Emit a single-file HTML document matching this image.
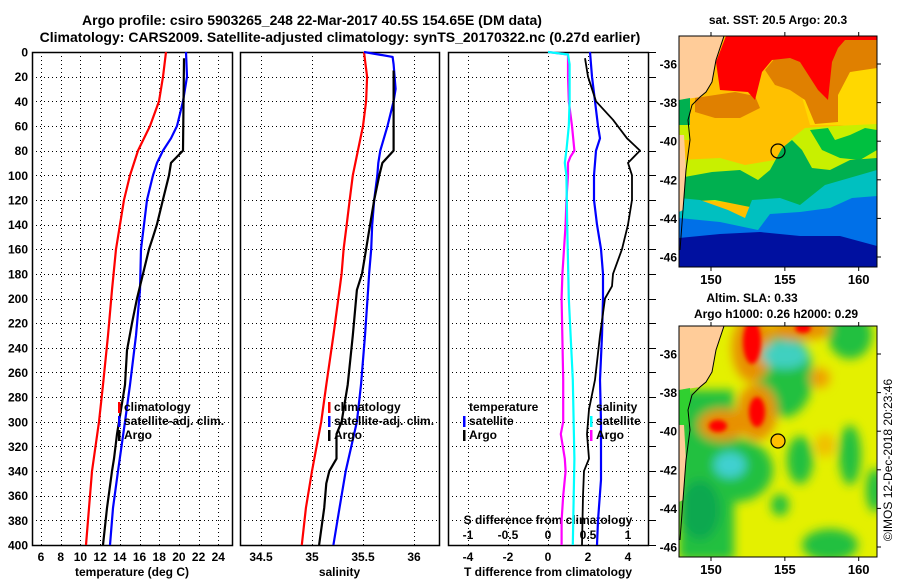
<!DOCTYPE html>
<html><head><meta charset="utf-8"><style>
body{margin:0;background:#fff}
svg{display:block;font-family:"Liberation Sans",sans-serif;font-weight:bold}
</style></head><body>
<svg id="c" width="900" height="580" viewBox="0 0 900 580" xmlns="http://www.w3.org/2000/svg">
<defs>
<filter id="blur" x="-20%" y="-20%" width="140%" height="140%"><feGaussianBlur stdDeviation="5"/></filter>
<filter id="blur2"><feGaussianBlur stdDeviation="2"/></filter>
<clipPath id="m1clip"><rect x="679" y="36" width="198" height="231"/></clipPath>
<clipPath id="m2clip"><rect x="679" y="326" width="198" height="231"/></clipPath>
</defs>
<text x="312" y="25" text-anchor="middle" font-size="14">Argo profile: csiro 5903265_248 22-Mar-2017 40.5S 154.65E (DM data)</text>
<text x="340" y="42" text-anchor="middle" font-size="14">Climatology: CARS2009. Satellite-adjusted climatology: synTS_20170322.nc (0.27d earlier)</text>

<!-- SST map -->
<g clip-path="url(#m1clip)">
<rect x="679" y="36" width="198" height="231" fill="#ffc000"/>
<polygon fill="#ffd800" points="800,90 840,75 877,65 877,130 840,125 810,125"/>
<polygon fill="#e08000" points="695,98 735,92 755,96 760,108 740,118 715,118 695,112"/>
<polygon fill="#e08000" points="765,70 775,58 800,52 830,52 840,40 877,36 877,68 850,72 838,95 838,122 815,124 805,100 790,90 775,85"/>
<polygon fill="#ff0000" points="726,36 877,36 877,40 845,40 838,48 832,62 828,100 818,90 800,62 790,58 772,60 762,72 755,100 748,92 720,90 716,62"/>
<polygon fill="#c8f000" points="679,160 720,158 745,165 775,160 790,140 805,128 835,126 877,124 877,165 830,185 800,200 760,205 700,200 679,195"/>
<polygon fill="#00c040" points="810,130 828,128 835,140 850,135 865,128 877,130 877,150 860,160 840,158 822,150"/>
<polygon fill="#00b050" points="679,178 712,172 740,170 758,180 770,170 782,148 792,140 802,150 812,168 830,170 850,160 877,158 877,180 840,182 815,205 775,212 740,205 715,200 679,202"/>
<polygon fill="#00c0c0" points="679,198 700,200 728,210 745,218 752,200 780,198 800,205 825,185 877,170 877,205 820,222 760,232 700,222 679,218"/>
<polygon fill="#0070e8" points="679,218 720,222 758,230 770,214 800,212 830,208 852,198 877,196 877,250 800,240 720,238 679,240"/>
<polygon fill="#0010a0" points="679,238 720,234 760,232 800,236 840,236 877,246 877,267 679,267"/>
<polygon fill="#ffcc99" points="679,36 724,36 716,60 712,82 706,92 700,97 679,100"/>
<polygon fill="#00b050" points="679,100 690,98 690,125 679,125"/>
<polygon fill="#c8f000" points="679,125 690,125 690,140 679,140"/>
<polygon fill="#ffcc99" points="679,135 684,135 686,170 683,210 679,212"/>
<polyline fill="none" stroke="#000" stroke-width="1" points="724,36 716,60 712,82 706,92 700,97 692,105 688,120 690,140 686,170 683,210 680,250"/>
<circle cx="778" cy="151" r="7" fill="none" stroke="#000" stroke-width="1.2"/>
</g>
<rect x="679" y="36" width="198" height="231" fill="none" stroke="#000"/>
<text x="778" y="24" text-anchor="middle" font-size="12">sat. SST: 20.5 Argo: 20.3</text>

<!-- SLA map -->
<g clip-path="url(#m2clip)">
<rect x="679" y="326" width="198" height="231" fill="#e4f000"/>
<g filter="url(#blur)">
<rect x="679" y="390" width="55" height="170" fill="#20c040"/>
<ellipse cx="735" cy="470" rx="38" ry="32" fill="#20c040"/>
<ellipse cx="785" cy="375" rx="28" ry="42" fill="#20c040"/>
<ellipse cx="850" cy="335" rx="22" ry="24" fill="#20c040"/>
<ellipse cx="800" cy="460" rx="13" ry="24" fill="#20c040"/>
<ellipse cx="850" cy="455" rx="11" ry="30" fill="#20c040"/>
<ellipse cx="780" cy="505" rx="9" ry="11" fill="#20c040"/>
<ellipse cx="830" cy="545" rx="28" ry="16" fill="#20c040"/>
<ellipse cx="875" cy="490" rx="9" ry="22" fill="#20c040"/>
<ellipse cx="700" cy="510" rx="20" ry="30" fill="#10a850"/>
<ellipse cx="752" cy="348" rx="20" ry="34" fill="#e89000"/>
<ellipse cx="800" cy="330" rx="32" ry="10" fill="#e89000"/>
<ellipse cx="757" cy="412" rx="20" ry="28" fill="#e89000"/>
<ellipse cx="722" cy="425" rx="24" ry="16" fill="#e89000"/>
<ellipse cx="820" cy="378" rx="10" ry="10" fill="#f0a000"/>
<ellipse cx="825" cy="445" rx="10" ry="12" fill="#f0c000"/>
<ellipse cx="785" cy="355" rx="24" ry="14" fill="#40d0c0"/>
<ellipse cx="730" cy="465" rx="16" ry="13" fill="#40d0d0"/>
</g>
<g filter="url(#blur2)">
<ellipse cx="752" cy="342" rx="9" ry="22" fill="#ff0000"/>
<ellipse cx="803" cy="328" rx="8" ry="5" fill="#ff0000"/>
<ellipse cx="757" cy="412" rx="8" ry="15" fill="#ff0000"/>
<ellipse cx="718" cy="426" rx="9" ry="6" fill="#ff0000"/>
</g>
<polygon fill="#ffcc99" points="679,326 724,326 716,350 712,372 706,382 700,387 679,390"/>
<polygon fill="#30d030" points="679,390 690,388 690,425 679,425"/>
<polygon fill="#ffcc99" points="679,425 684,425 686,460 683,500 679,502"/>
<polyline fill="none" stroke="#000" stroke-width="1" points="724,326 716,350 712,372 706,382 700,387 692,395 688,410 690,430 686,460 683,500 680,540"/>
<circle cx="778" cy="441" r="7" fill="#ffc000" stroke="#000" stroke-width="1.2"/>
</g>
<rect x="679" y="326" width="198" height="231" fill="none" stroke="#000"/>
<text x="752" y="302" text-anchor="middle" font-size="12">Altim. SLA: 0.33</text>
<text x="776" y="318" text-anchor="middle" font-size="12">Argo h1000: 0.26 h2000: 0.29</text>
<text transform="translate(892,460) rotate(-90)" text-anchor="middle" font-size="12" font-weight="normal">©IMOS 12-Dec-2018 20:23:46</text>
</svg>
<script>
// ---------- data ----------
const depthTicks = [0,20,40,60,80,100,120,140,160,180,200,220,240,260,280,300,320,340,360,380,400];
const tempTicks = [6,8,10,12,14,16,18,20,22,24];
const salTicks = [34.5,35,35.5,36];
const salTickLabels = ["34.5","35","35.5","36"];
const tdiffTicks = [-4,-2,0,2,4];
const sdiffTicks = [-1,-0.5,0,0.5,1];
const sdiffTickLabels = ["-1","-0.5","0","0.5","1"];
const lonTicks = [150,155,160];
const latTicks = [-36,-38,-40,-42,-44,-46];

const climTDepth = [0,20,40,60,80,100,120,140,160,193,230,270,300,340,370,400];
const climT = [18.69,18.39,17.98,17.07,15.85,15.04,14.43,14.02,13.61,13.21,12.80,12.29,11.89,11.18,10.87,10.57];
const satTDepth = [0,20,40,60,70,80,90,100,120,140,160,193,230,270,300,340,370,400];
const satT = [20.72,20.82,20.42,19.81,19.20,18.39,17.78,17.37,16.76,16.46,16.15,16.05,15.64,15.04,14.53,13.82,13.31,13.0];
const argoTDepth = [5,80,90,100,120,140,150,160,180,200,220,242,270,300,310,330,340,370,400];
const argoT = [20.52,20.42,19.20,18.99,18.38,17.77,17.37,16.96,16.36,15.75,15.24,14.73,14.53,13.92,13.72,13.41,13.21,12.70,12.29];

const climSDepth = [0,20,40,60,80,100,120,140,160,180,193,230,270,300,340,370,400];
const climS = [35.51,35.54,35.53,35.50,35.45,35.40,35.37,35.34,35.31,35.29,35.27,35.21,35.14,35.09,35.00,34.94,34.90];
const satSDepth = [0,4,10,30,40,60,80,90,100,120,140,160,180,193,230,270,300,340,370,400];
const satS = [35.51,35.79,35.80,35.82,35.80,35.74,35.67,35.65,35.64,35.61,35.59,35.58,35.56,35.55,35.52,35.48,35.44,35.33,35.27,35.21];
const argoSDepth = [15,80,90,100,120,140,160,180,193,230,270,300,310,330,340,350,370,400];
const argoS = [35.80,35.80,35.69,35.66,35.61,35.57,35.53,35.49,35.44,35.40,35.35,35.29,35.24,35.24,35.17,35.14,35.12,35.07];

const satTdDepth = [0,20,40,60,70,80,100,120,140,160,180,200,230,266,300,347,380,400];
const satTd = [2.1,2.2,2.35,2.5,2.6,2.4,2.3,2.3,2.45,2.65,2.75,2.75,2.7,2.6,2.65,2.65,2.5,2.45];
const argoTdDepth = [5,20,40,55,70,80,90,100,120,140,160,180,190,200,230,266,290,310,330,340,360,400];
const argoTd = [1.85,2.0,2.4,3.25,3.95,4.6,4.0,4.2,4.2,4.0,3.7,3.25,3.2,2.85,2.6,2.35,2.05,1.95,2.05,1.8,1.75,1.7];
const argoSdDepth = [0,2,20,40,50,60,80,85,90,100,120,140,160,180,200,266,300,310,330,340,360,380,400];
const argoSd = [0,0.25,0.25,0.26,0.28,0.30,0.33,0.28,0.25,0.25,0.23,0.22,0.20,0.18,0.17,0.19,0.19,0.16,0.21,0.22,0.19,0.17,0.17];
const satSdDepth = [0,2,10,40,60,80,90,100,140,200,266,330,400];
const satSd = [0,0.25,0.27,0.27,0.26,0.23,0.21,0.23,0.24,0.26,0.31,0.33,0.31];

// ---------- scales ----------
const Y0 = 52, Y1 = 545;
const yD = d => Y0 + d * (Y1 - Y0) / 400;
const xT = t => 41 + (t - 6) * 9.85;
const xS = s => 261 + (s - 34.5) * 102;
const xTd = v => 548 + v * 20;
const xSd = v => 548 + v * 80;
const mx = lon => 711 + (lon - 150) * 14.77;
const my = lat => 64 + (-36 - lat) * 19.3;

const svg = document.getElementById('c');
const NS = 'http://www.w3.org/2000/svg';
function mk(tag, attrs, parent) {
  const e = document.createElementNS(NS, tag);
  for (const k in attrs) e.setAttribute(k, attrs[k]);
  (parent || svg).appendChild(e);
  return e;
}
function txt(x, y, s, anchor, size, parent) {
  const t = mk('text', {x: x, y: y, 'text-anchor': anchor, 'font-size': size}, parent);
  t.textContent = s;
  return t;
}

const panels = [
  {x0: 32, x1: 232, name: 'temperature-panel', ticks: tempTicks, labels: tempTicks.map(String), sx: xT, title: 'temperature (deg C)'},
  {x0: 240, x1: 439, name: 'salinity-panel', ticks: salTicks, labels: salTickLabels, sx: xS, title: 'salinity'},
  {x0: 448, x1: 648, name: 'difference-panel', ticks: tdiffTicks, labels: tdiffTicks.map(String), sx: xTd, title: 'T difference from climatology'}
];

panels.forEach((p, pi) => {
  const g = mk('g', {});
  
  
  const grid = mk('g', {stroke: '#000', 'stroke-width': 1, 'stroke-dasharray': '1,3'}, g);
  
  
  p.ticks.forEach(t => { const x = Math.round(p.sx(t)) + 0.5; mk('line', {x1: x, x2: x, y1: Y0, y2: Y1}, grid); });
  depthTicks.forEach(d => { const y = Math.round(yD(d)) + 0.5; if (d > 0 && d < 400) mk('line', {x1: p.x0, x2: p.x1, y1: y, y2: y}, grid); });
  const frame = mk('rect', {x: p.x0 + 0.5, y: Y0 + 0.5, width: p.x1 - p.x0, height: Y1 - Y0, fill: 'none', stroke: '#000', 'stroke-width': 1.5}, g);
  
  
  const xl = mk('g', {}, g);
  
  
  p.ticks.forEach((t, i) => txt(p.sx(t), 561, p.labels[i], 'middle', 12, xl));
  const xt = txt((p.x0 + p.x1) / 2, 576, p.title, 'middle', 12, g);
  
  
  if (pi === 2) {
    depthTicks.forEach(d => { const y = Math.round(yD(d)) + 0.5; mk('line', {x1: 649, x2: 656, y1: y, y2: y, stroke: '#000'}, g); });
  }
});

// y tick labels
const yl = mk('g', {});


depthTicks.forEach(d => txt(28, yD(d) + 4.5, String(d), 'end', 12, yl));

// S diff secondary axis labels
const sd = mk('g', {});


txt(548, 524, 'S difference from climatology', 'middle', 12, sd);
sdiffTicks.forEach((v, i) => txt(xSd(v), 539, sdiffTickLabels[i], 'middle', 12, sd));

function line(depths, vals, sx, color, name, w) {
  const pts = depths.map((d, i) => sx(vals[i]).toFixed(1) + ',' + yD(d).toFixed(1)).join(' ');
  const pl = mk('polyline', {points: pts, fill: 'none', stroke: color, 'stroke-width': w || 2.2, 'stroke-linejoin': 'round'});
  
  
}
line(climTDepth, climT, xT, '#ff0000', 'climatology-temperature-line');
line(satTDepth, satT, xT, '#0000ff', 'satellite-temperature-line');
line(argoTDepth, argoT, xT, '#000000', 'argo-temperature-line');
line(climSDepth, climS, xS, '#ff0000', 'climatology-salinity-line');
line(satSDepth, satS, xS, '#0000ff', 'satellite-salinity-line');
line(argoSDepth, argoS, xS, '#000000', 'argo-salinity-line');
line(argoSdDepth, argoSd, xSd, '#ff00ff', 'argo-salinity-difference-line');
line(satSdDepth, satSd, xSd, '#00ffff', 'satellite-salinity-difference-line');
line(satTdDepth, satTd, xTd, '#0000ff', 'satellite-temperature-difference-line');
line(argoTdDepth, argoTd, xTd, '#000000', 'argo-temperature-difference-line', 1.8);

// legends
function legend(x, y, items, name) {
  const g = mk('g', {});
  
  
  items.forEach((it, i) => {
    const yy = y + i * 14;
    if (it[1]) mk('rect', {x: x, y: yy - 9, width: 2.5, height: 11, fill: it[1]}, g);
    const t = txt(x + 6, yy, it[0], 'start', 12, g);
    
    
  });
}
legend(118, 411, [['climatology', '#ff0000'], ['satellite-adj. clim.', '#0000ff'], ['Argo', '#000000']], 'temperature-legend');
legend(328, 411, [['climatology', '#ff0000'], ['satellite-adj. clim.', '#0000ff'], ['Argo', '#000000']], 'salinity-legend');
legend(463, 411, [['temperature', null], ['satellite', '#0000ff'], ['Argo', '#000000']], 'temperature-difference-legend');
legend(590, 411, [['salinity', null], ['satellite', '#00ffff'], ['Argo', '#ff00ff']], 'salinity-difference-legend');

// map axes
[[36, 267], [326, 557]].forEach((m, mi) => {
  const g = mk('g', {});
  
  
  const off = m[0] - 36;
  lonTicks.forEach(l => {
    const x = mx(l);
    mk('line', {x1: x, x2: x, y1: m[0] - 4, y2: m[0], stroke: '#000'}, g);
    mk('line', {x1: x, x2: x, y1: m[1], y2: m[1] + 4, stroke: '#000'}, g);
    txt(x, m[1] + 17, String(l), 'middle', 13, g);
  });
  latTicks.forEach(l => {
    const y = my(l) + off;
    mk('line', {x1: 877, x2: 881, y1: y, y2: y, stroke: '#000'}, g);
    txt(677, y + 4.5, String(l), 'end', 12, g);
  });
});
</script>
</body></html>
